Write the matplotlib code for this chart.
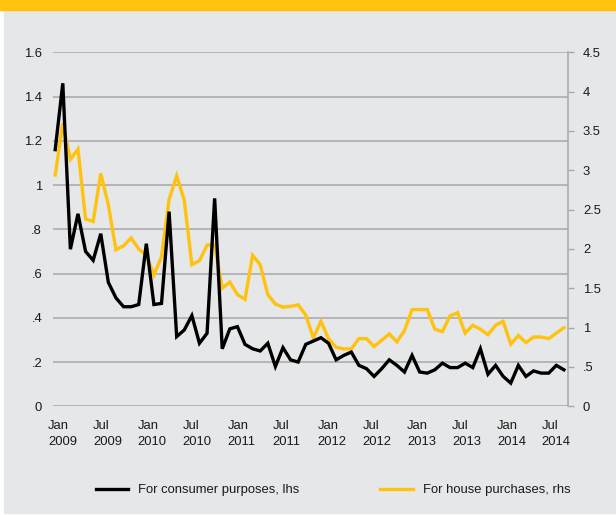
import numpy as np
import matplotlib
matplotlib.use("Agg")
import matplotlib.pyplot as plt
import matplotlib.transforms as mtransforms
from matplotlib.patches import Rectangle
from matplotlib.lines import Line2D

plt.rcParams['font.family'] = ['Liberation Sans', 'DejaVu Sans']
plt.rcParams['font.size'] = 9.4

# monthly, Jan 2009 .. Aug 2014
consumer = [1.16, 1.46, 0.71, 0.87, 0.70, 0.66, 0.78, 0.56, 0.49, 0.45, 0.45, 0.46,
            0.735, 0.46, 0.465, 0.88, 0.315, 0.345, 0.41, 0.285, 0.33, 0.94, 0.26, 0.35,
            0.36, 0.28, 0.26, 0.25, 0.285, 0.18, 0.265, 0.21, 0.20, 0.28, 0.295, 0.31,
            0.285, 0.21, 0.23, 0.245, 0.185, 0.17, 0.135, 0.17, 0.21, 0.185, 0.155, 0.23,
            0.155, 0.15, 0.165, 0.195, 0.175, 0.175, 0.195, 0.175, 0.26, 0.145, 0.185, 0.135,
            0.105, 0.185, 0.135, 0.16, 0.15, 0.15, 0.185, 0.165]
house = [2.94, 3.60, 3.14, 3.27, 2.38, 2.35, 2.96, 2.56, 1.99, 2.04, 2.14, 2.00,
         1.92, 1.67, 1.90, 2.63, 2.93, 2.62, 1.80, 1.85, 2.05, 2.05, 1.50, 1.58,
         1.42, 1.36, 1.92, 1.80, 1.42, 1.30, 1.26, 1.27, 1.29, 1.16, 0.87, 1.08,
         0.86, 0.75, 0.73, 0.73, 0.86, 0.86, 0.76, 0.84, 0.92, 0.82, 0.96, 1.23,
         1.23, 1.23, 0.98, 0.95, 1.15, 1.19, 0.93, 1.03, 0.98, 0.91, 1.03, 1.08,
         0.79, 0.90, 0.81, 0.88, 0.88, 0.86, 0.93, 1.00]
x_labels = ["Jan\n2009", "Jul\n2009", "Jan\n2010", "Jul\n2010", "Jan\n2011", "Jul\n2011",
            "Jan\n2012", "Jul\n2012", "Jan\n2013", "Jul\n2013", "Jan\n2014", "Jul\n2014"]
left_ticks = [0, 0.2, 0.4, 0.6, 0.8, 1.0, 1.2, 1.4, 1.6]
left_labels = ["0", ".2", ".4", ".6", ".8", "1", "1.2", "1.4", "1.6"]
right_ticks = [0, 0.5, 1, 1.5, 2, 2.5, 3, 3.5, 4, 4.5]
right_labels = ["0", ".5", "1", "1.5", "2", "2.5", "3", "3.5", "4", "4.5"]

BG = "#e6e7e8"
YELLOW = "#ffc20e"
GRID = "#a7a8aa"
TXT = "#1a1a1a"

W, H = 616, 515
fig = plt.figure(figsize=(W / 100, H / 100), dpi=100, facecolor="white")
fig.patches.append(Rectangle((4 / W, 2 / H), 1 - 4 / W, (H - 12) / H,
                             transform=fig.transFigure, color=BG, zorder=-10))
fig.patches.append(Rectangle((0, (H - 10) / H), 1, 10 / H,
                             transform=fig.transFigure, color=YELLOW, zorder=-10))

ax = fig.add_axes([53.3 / W, 108.7 / H, 514.4 / W, 354 / H])
ax2 = ax.twinx()
ax.set_zorder(2)
ax2.set_zorder(1)
ax.patch.set_visible(False)
ax2.patch.set_visible(False)

x = np.arange(len(consumer))
ax.plot(x, consumer, color="black", lw=2.4, solid_joinstyle="miter", zorder=4)
ax2.plot(x, house, color=YELLOW, lw=2.4, solid_joinstyle="miter", zorder=3)

ax.set_yticks(left_ticks)
ax.set_yticklabels(left_labels)
ax2.set_yticks(right_ticks)
ax2.set_yticklabels(right_labels)
ax2.tick_params(axis="y", length=4, width=1, color=GRID, pad=7, labelcolor=TXT)

# gridlines for the left scale, drawn on the lower axes so the lines sit underneath
for t in left_ticks:
    ax2.axhline(t * 4.5 / 1.6, color=GRID, lw=1.1, zorder=1)
ax.tick_params(axis="y", length=0, pad=8, labelcolor=TXT)

ax.set_xticks(np.arange(0, 67, 6))
ax.set_xticklabels(x_labels, ha="left", multialignment="left", linespacing=1.45)
ax.tick_params(axis="x", length=0, pad=10, labelcolor=TXT)
# shift the date labels left so each one starts a little before its month
for k, lab in enumerate(ax.get_xticklabels()):
    dx = -(7.2 + 0.66 * k) / 100
    lab.set_transform(lab.get_transform() +
                      mtransforms.ScaledTranslation(dx, 0, fig.dpi_scale_trans))

ax.set_xlim(-0.25, 67.5)
ax.set_ylim(0, 1.6)
ax2.set_ylim(0, 4.5)

for a in (ax, ax2):
    for s in ("top", "left", "bottom"):
        a.spines[s].set_visible(False)
ax.spines["right"].set_visible(False)
ax2.spines["right"].set_color(GRID)
ax2.spines["right"].set_linewidth(1.1)

handles = [Line2D([], [], color="black", lw=2.4),
           Line2D([], [], color=YELLOW, lw=2.4)]
fig.legend(handles, ["For consumer purposes, lhs", "For house purchases, rhs"],
           loc="center", bbox_to_anchor=(333 / W, 25 / H), ncol=2, frameon=False,
           handlelength=2.5, handletextpad=0.75, columnspacing=6.2, labelcolor=TXT)

fig.savefig("out.png", dpi=100, facecolor=fig.get_facecolor())
